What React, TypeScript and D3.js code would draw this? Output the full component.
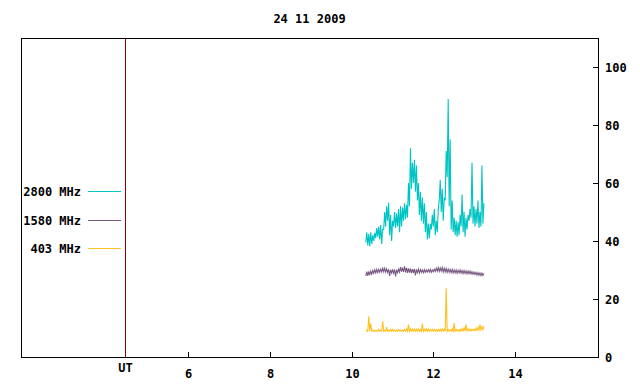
import * as d3 from 'd3'

// sample columns run from start to end (UT hours)
const tStart = 10.35
const tEnd = 13.22

const teal_lo = [39.5, 38.5, 38.2, 39, 40, 41, 41.5, 40.5, 39, 44, 45, 47, 42, 40, 45, 44.5, 45, 43, 45, 47,
  47.5, 48, 52, 58, 60, 57, 54, 49, 47, 46, 43, 40.5, 41, 44, 45, 42, 43, 54, 50, 47,
  54, 62, 52, 44, 43, 42, 41.5, 42, 45, 43, 41.5, 44, 47, 48, 46, 45, 46, 44.5, 45, 46]
const teal_hi = [43, 42.5, 43, 42, 42.8, 44.5, 45, 45.5, 44, 50, 52, 53.2, 49, 47, 50, 49.5, 51, 52, 51.5, 53,
  52.5, 60, 72, 67, 68, 66, 60, 57, 55, 53, 50, 46, 46, 49, 51, 47, 51, 61, 58, 55,
  71, 89, 75, 54, 48, 47, 46.5, 49, 56, 50, 48, 49, 51, 67, 52, 51, 54, 50, 66, 53]

const purple_lo = [28.0, 28.0, 28.2, 28.6, 28.9, 29.0, 29.1, 29.2, 29.4, 29.4, 29.3, 29.2, 28.0, 29.0, 28.9, 27.8, 29.1, 29.3, 29.4, 29.3,
  29.2, 29.0, 29.1, 28.9, 29.0, 28.1, 29.1, 29.0, 29.2, 29.1, 29.2, 29.3, 29.3, 29.2, 29.4, 29.5, 29.6, 29.5, 29.6, 29.4,
  29.3, 29.2, 29.2, 29.1, 29.0, 29.0, 28.9, 29.0, 28.9, 28.8, 28.8, 28.7, 28.7, 28.6, 28.5, 28.5, 28.3, 28.2, 28.1, 28.1]
const purple_hi = [29.4, 29.5, 29.6, 29.8, 30.1, 30.2, 30.2, 30.3, 30.6, 30.6, 30.4, 30.2, 30.1, 30.0, 30.2, 30.1, 30.3, 31.0, 30.8, 31.3,
  30.7, 30.6, 30.5, 30.3, 30.4, 30.2, 30.3, 30.1, 30.0, 30.1, 30.0, 30.1, 30.2, 30.0, 30.3, 30.6, 30.8, 30.7, 30.8, 30.6,
  30.5, 30.3, 30.2, 30.2, 30.0, 30.0, 29.9, 30.0, 29.8, 29.8, 29.7, 29.6, 29.6, 29.4, 29.3, 29.2, 29.1, 29.0, 28.9, 28.8]

const gold_lo = [8.9, 8.9, 8.9, 8.9, 8.9, 8.9, 8.9, 8.9, 8.9, 8.9, 8.9, 8.9, 8.9, 8.9, 8.9, 8.9, 8.9, 8.9, 8.9, 8.9,
  8.9, 8.9, 8.9, 8.9, 8.9, 8.9, 8.9, 8.9, 8.9, 8.9, 8.9, 8.9, 8.9, 8.9, 8.9, 8.9, 8.9, 8.9, 8.9, 8.9,
  8.9, 8.9, 8.9, 8.9, 8.9, 8.9, 8.9, 8.9, 9.0, 9.0, 9.0, 9.0, 9.0, 9.0, 9.1, 9.1, 9.2, 9.3, 9.4, 9.5]
const gold_hi = [9.2, 14.0, 11.5, 9.2, 9.2, 9.2, 9.5, 9.2, 12.3, 9.2, 10.3, 9.2, 9.5, 9.5, 9.2, 9.2, 9.5, 9.2, 9.2, 9.5,
  9.7, 11.2, 9.7, 9.6, 9.7, 9.6, 9.7, 9.5, 11.5, 9.6, 9.8, 9.6, 9.5, 9.5, 9.6, 9.4, 9.5, 9.6, 9.7, 9.6,
  23.7, 9.5, 9.4, 9.7, 11.7, 9.5, 9.4, 9.6, 9.8, 10.0, 11.2, 9.7, 9.6, 9.5, 9.6, 9.9, 10.2, 11.2, 10.4, 10.6]

const series = [
  { name: '2800 MHz', color: '#00c4c4', lo: teal_lo, hi: teal_hi },
  { name: '1580 MHz', color: '#7b5b85', lo: purple_lo, hi: purple_hi },
  { name: '403 MHz', color: '#ffc020', lo: gold_lo, hi: gold_hi },
]

const xTicks = [6, 8, 10, 12, 14]
const yTicks = [0, 20, 40, 60, 80, 100]
const utHour = 4.46

const font = { fontFamily: 'DejaVu Sans Mono', fontWeight: 'bold', fontSize: '12px' } as const

const App = () => {
  const left = 21, right = 598, top = 38, bottom = 357

  const x = d3.scaleLinear().domain([1.9, 16.04]).range([left, right])
  const y = d3.scaleLinear().domain([0, 110]).range([bottom, top])

  const line = d3.line<[number, number]>()
    .x(d => x(d[0]))
    .y(d => y(d[1]))

  // each column: low sample, then high sample half a step later -> dense zigzag band
  const pathFor = (lo: number[], hi: number[]) => {
    const n = lo.length
    const step = (tEnd - tStart) / (n - 1)
    const pts: [number, number][] = []
    lo.forEach((v, i) => {
      const t = tStart + i * step
      pts.push([t, v])
      pts.push([t + step / 2, hi[i]])
    })
    return line(pts) || ''
  }

  return (
    <svg width={640} height={384} style={{ position: 'absolute', left: 0, top: 0, background: '#fff' }}>
      <text x={(left + right) / 2} y={23} textAnchor="middle" style={font}>24 11 2009</text>

      {/* UT marker */}
      <line x1={x(utHour)} x2={x(utHour)} y1={top} y2={bottom} stroke="#8b0000" shapeRendering="crispEdges" />

      {series.map(s => (
        <path key={s.name} d={pathFor(s.lo, s.hi)} fill="none" stroke={s.color} strokeWidth={1.1} />
      ))}

      <rect x={left + 0.5} y={top + 0.5} width={right - left} height={bottom - top}
        fill="none" stroke="#000" shapeRendering="crispEdges" />

      {xTicks.map(v => (
        <g key={v} transform={`translate(${Math.round(x(v)) + 0.5}, 0)`}>
          <line y1={bottom} y2={bottom - 5} stroke="#000" shapeRendering="crispEdges" />
          <text y={378} textAnchor="middle" style={font}>{v}</text>
        </g>
      ))}
      <text x={x(utHour)} y={372} textAnchor="middle" style={font}>UT</text>

      {yTicks.map(v => (
        <g key={v} transform={`translate(0, ${Math.round(y(v)) + 0.5})`}>
          <line x1={right} x2={right - 5} stroke="#000" shapeRendering="crispEdges" />
          <text x={605} y={4} style={font}>{v}</text>
        </g>
      ))}

      {series.map((s, i) => (
        <g key={s.name} transform={`translate(0, ${Math.round(191 + i * 28.5) + 0.5})`}>
          <text x={81} y={4} textAnchor="end" style={font}>{s.name}</text>
          <line x1={88} x2={121} stroke={s.color} shapeRendering="crispEdges" />
        </g>
      ))}
    </svg>
  )
}

export default App
